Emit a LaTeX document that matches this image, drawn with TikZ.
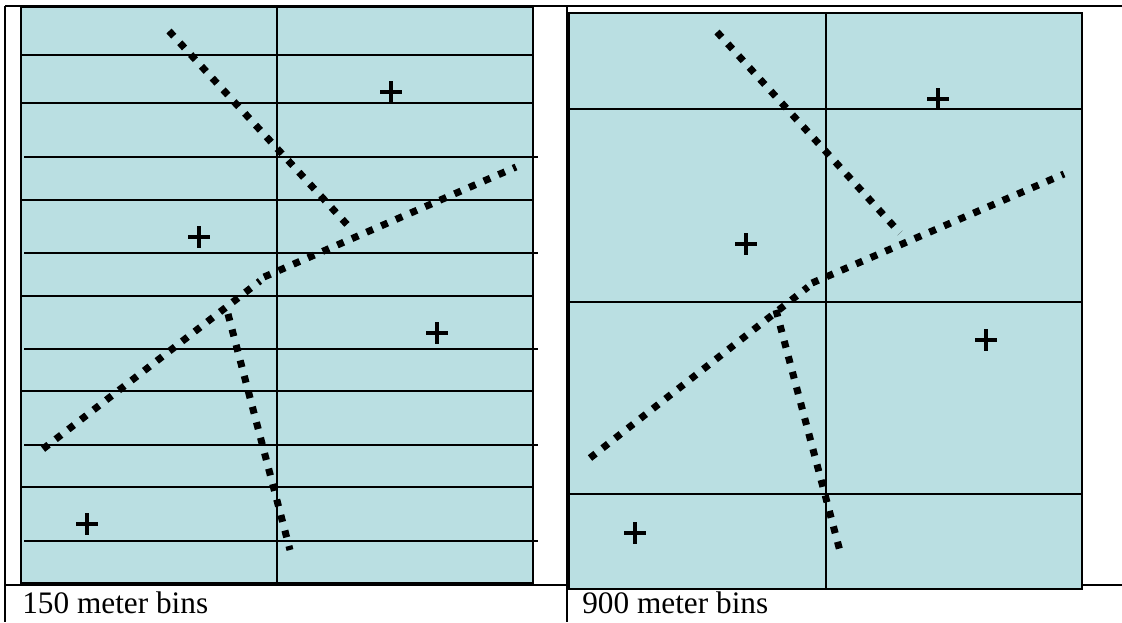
\documentclass[tikz,border=0pt]{standalone}
\usepackage{fontspec}
\setmainfont{Liberation Serif}
\usepackage{xcolor}
\usepackage{tikz}
\definecolor{binfill}{RGB}{186,223,226}

\begin{document}
\begin{tikzpicture}[x=0.02cm, y=-0.02cm,
  tableline/.style={line width=1.1pt},
  binline/.style={line width=0.8pt},
  fault/.style={line width=4pt, dash pattern=on 4pt off 5.1pt},
  centroid/.style={line width=2.2pt},
  binlabel/.style={anchor=base west, inner sep=0pt, font=\fontsize{17.8}{21}\selectfont}]
\useasboundingbox (0,0) rectangle (1122,622);
\draw[tableline] (5,6) -- (1122,6);
\draw[tableline] (5,6) -- (5,622);
\draw[tableline] (567,6) -- (567,622);
\draw[tableline] (5,585) -- (1122,585);
\draw[tableline, fill=binfill] (21,7) rectangle (533,583);
\foreach \y in {55,103,200,296,391,487} \draw[binline] (21,\y) -- (533,\y);
\foreach \y in {157,253,349,445,541} \draw[binline] (24,\y) -- (538,\y);
\draw[binline] (277,7) -- (277,583);
\draw[fault] (169,31) -- (353,231);
\draw[fault] (43,449) -- (260,281);
\draw[fault] (264,277) -- (516,167);
\draw[fault] (228,314) -- (290,550);
\foreach \x/\y in {391/92,199/237,437/333,87/524} \draw[centroid] (\x,\y) ++(-11,0) -- ++(22,0) (\x,\y) ++(0,-11) -- ++(0,22);
\node[binlabel] (fine) at (22,613) {150 meter bins};
\draw[tableline, fill=binfill] (569,13) rectangle (1082,589);
\foreach \y in {109,302,494} \draw[binline] (569,\y) -- (1082,\y);
\draw[binline] (826,13) -- (826,589);
\draw[fault] (717,32) -- (900,233);
\draw[fault] (590,458) -- (808,287);
\draw[fault] (812,283) -- (1064,174);
\draw[fault] (776,310) -- (841,555);
\foreach \x/\y in {938/99,746/244,986/340,635/533} \draw[centroid] (\x,\y) ++(-11,0) -- ++(22,0) (\x,\y) ++(0,-11) -- ++(0,22);
\node[binlabel] (coarse) at (582,613) {900 meter bins};
\end{tikzpicture}
\end{document}
